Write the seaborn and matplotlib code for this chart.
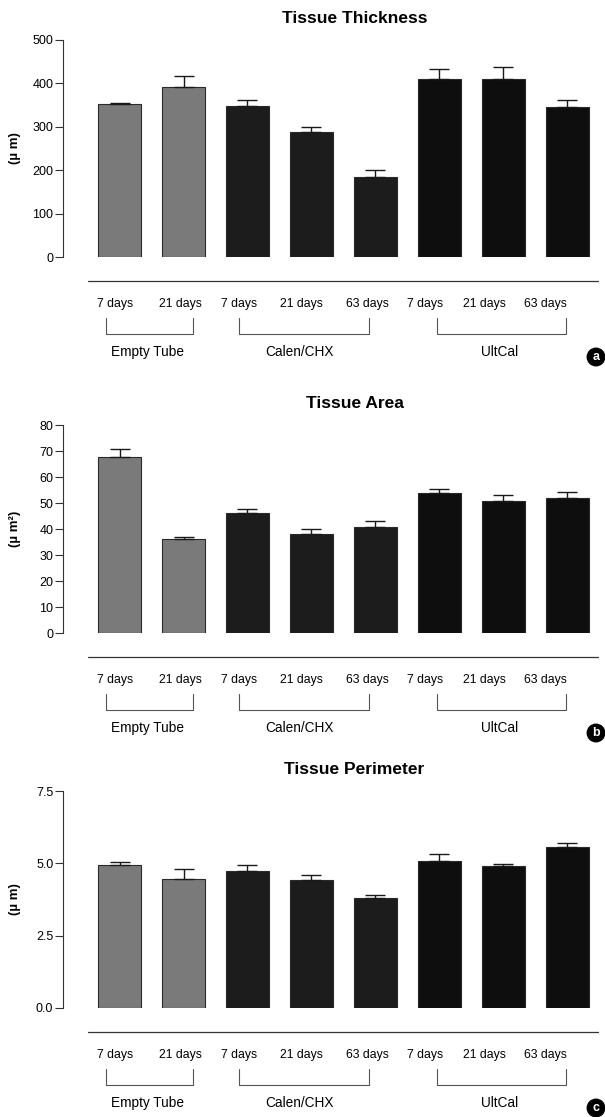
import numpy as np
import pandas as pd
import seaborn as sns
import matplotlib.pyplot as plt
from matplotlib.transforms import blended_transform_factory
from matplotlib.ticker import FormatStrFormatter

# data (mean and upper error)
groups = ['Empty Tube', 'Empty Tube', 'Calen/CHX', 'Calen/CHX', 'Calen/CHX',
          'UltCal', 'UltCal', 'UltCal']
days = ['7 days', '21 days', '7 days', '21 days', '63 days',
        '7 days', '21 days', '63 days']

thickness = [353, 391, 349, 288, 185, 411, 410, 345]
thickness_err = [2, 27, 12, 11, 16, 22, 28, 16]

area = [67.8, 36.3, 46.2, 37.9, 40.9, 53.7, 50.8, 52.1]
area_err = [2.8, 0.5, 1.4, 2.0, 2.2, 1.8, 2.2, 2.1]

perimeter = [4.93, 4.45, 4.74, 4.41, 3.81, 5.09, 4.90, 5.56]
perimeter_err = [0.10, 0.35, 0.21, 0.17, 0.09, 0.24, 0.06, 0.14]

group_names = ['Empty Tube', 'Calen/CHX', 'UltCal']
group_colors = {'Empty Tube': '#7a7a7a', 'Calen/CHX': '#1c1c1c', 'UltCal': '#0e0e0e'}

##### layout (pixels of the 605x1117 image)
W, H = 605, 1117
label_x = [-0.07, 0.95, 1.87, 2.84, 3.87, 4.77, 5.70, 6.66]
brackets = {'Empty Tube': (-0.21, 1.15), 'Calen/CHX': (1.87, 3.90), 'UltCal': (4.96, 6.98)}
group_x = {'Empty Tube': 0.445, 'Calen/CHX': 2.82, 'UltCal': 5.945}

panels = [
    dict(title='Tissue Thickness', ylabel='(\u00b5 m)', vals=thickness, err=thickness_err,
         ylim=(0, 500), ticks=[0, 100, 200, 300, 400, 500], fmt='%d',
         top=40, bottom=257, letter='a'),
    dict(title='Tissue Area', ylabel='(\u00b5 m\u00b2)', vals=area, err=area_err,
         ylim=(0, 80), ticks=list(range(0, 81, 10)), fmt='%d',
         top=425, bottom=633, letter='b'),
    dict(title='Tissue Perimeter', ylabel='(\u00b5 m)', vals=perimeter, err=perimeter_err,
         ylim=(0, 7.5), ticks=[0, 2.5, 5.0, 7.5], fmt='%.1f',
         top=791, bottom=1008, letter='c'),
]

sns.set_style('white')
plt.rcParams['font.family'] = ['Liberation Sans', 'DejaVu Sans']
plt.rcParams['text.color'] = 'black'

fig = plt.figure(figsize=(W / 100, H / 100), dpi=100)

def fy(px):
    return 1 - px / H

for p in panels:
    ax = fig.add_axes([63 / W, fy(p['bottom']), (598 - 63) / W, (p['bottom'] - p['top']) / H])
    df = pd.DataFrame({'key': [g + ' ' + d for g, d in zip(groups, days)],
                       'group': groups, 'value': p['vals'], 'err': p['err']})
    sns.barplot(data=df, x='key', y='value', hue='group', palette=group_colors,
                width=0.67, edgecolor='#2a2a2a', linewidth=0.8, legend=False,
                dodge=False, ax=ax)
    pos = np.arange(len(df))
    ax.errorbar(pos, df['value'], yerr=[np.zeros(len(df)), df['err']], fmt='none',
                ecolor='#1a1a1a', elinewidth=1.0, capsize=7.5, capthick=1.0)

    ax.set_xlim(-0.883, 7.477)
    ax.set_ylim(*p['ylim'])
    ax.set_yticks(p['ticks'])
    ax.yaxis.set_major_formatter(FormatStrFormatter(p['fmt']))
    ax.tick_params(axis='y', left=True, length=6, width=0.8, color='#333333',
                   labelsize=9, labelcolor='black', pad=1)
    ax.set_xticks([])
    ax.set_xlabel('')
    for s in ['top', 'right', 'bottom']:
        ax.spines[s].set_visible(False)
    ax.spines['left'].set_color('#333333')
    ax.spines['left'].set_linewidth(0.8)
    ax.set_ylabel(p['ylabel'], fontsize=9.5, fontweight='bold', color='black')
    ax.yaxis.set_label_coords(-0.078, 0.5)

    ax.set_title(p['title'], fontsize=12.5, fontweight='bold', pad=12.5, x=0.545,
                 color='black')

    trans = blended_transform_factory(ax.transData, fig.transFigure)
    b = p['bottom']
    # separator line below the bars
    ax.plot([-0.49, 7.477], [fy(b + 24)] * 2, color='#333333', lw=0.9,
            transform=trans, clip_on=False)
    for x, d in zip(label_x, days):
        ax.text(x, fy(b + 47), d, transform=trans, ha='center', va='center', fontsize=8.8)
    for g in group_names:
        x0, x1 = brackets[g]
        ax.plot([x0, x0, x1, x1], [fy(b + 61), fy(b + 77), fy(b + 77), fy(b + 61)],
                color='#555555', lw=0.8, transform=trans, clip_on=False)
        ax.text(group_x[g], fy(b + 95), g, transform=trans, ha='center', va='center',
                fontsize=9.8)

    fig.text(596 / W, fy(b + 100), p['letter'], ha='center', va='center', color='white',
             fontsize=9, fontweight='bold',
             bbox=dict(boxstyle='circle,pad=0.22', fc='black', ec='black'))

plt.savefig('out.png', dpi=100)
